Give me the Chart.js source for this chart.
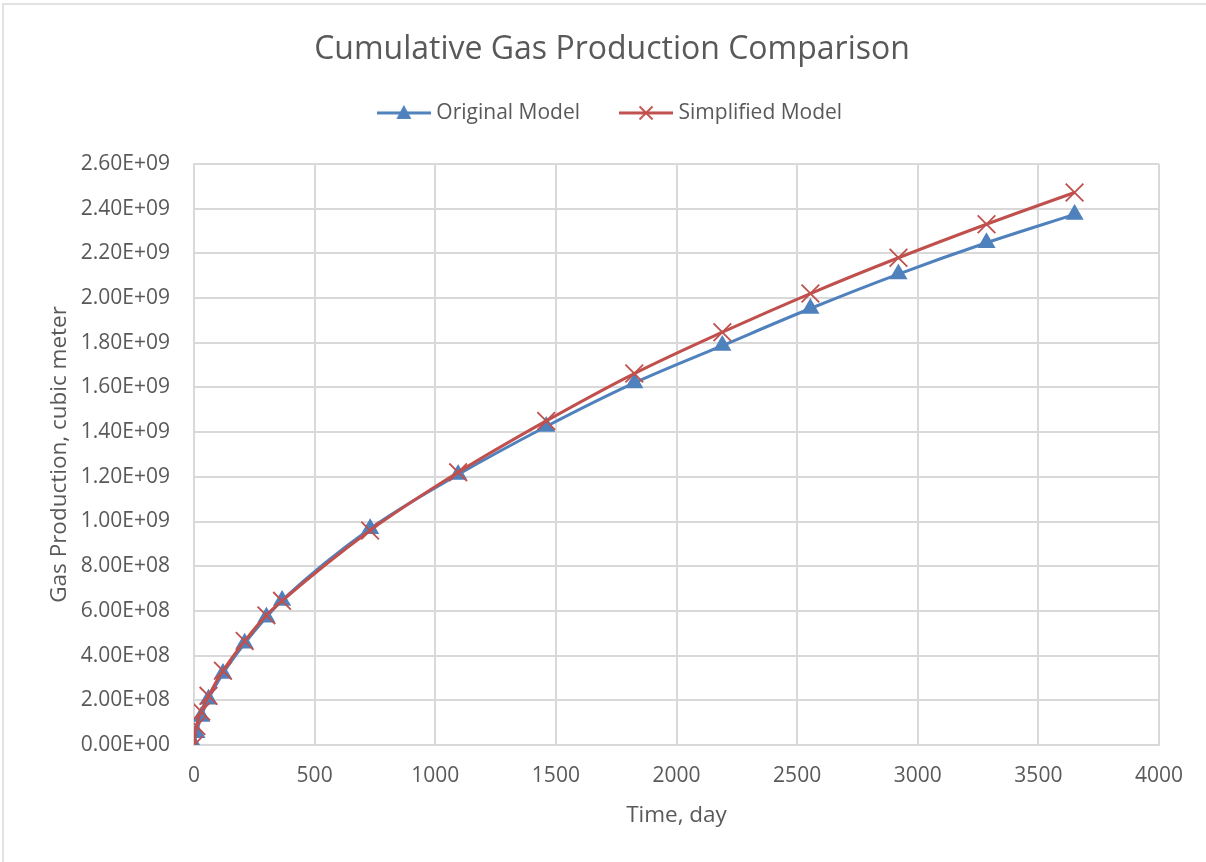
<!DOCTYPE html>
<html>
<head>
<meta charset="utf-8">
<title>Cumulative Gas Production Comparison</title>
<script src="https://cdn.jsdelivr.net/npm/chart.js@4.4.1/dist/chart.umd.min.js"></script>
<style>
  html, body { margin: 0; padding: 0; background: #ffffff; }
  #wrap { position: relative; width: 1206px; height: 862px; }
</style>
</head>
<body>
<div id="wrap"><canvas id="chart" width="1206" height="862"></canvas></div>
<script>
// Simulation time, days
const days = [0, 10, 30, 60, 120, 210, 300, 365, 730, 1095, 1460, 1825, 2190, 2555, 2920, 3285, 3650];

// Cumulative gas production, cubic meter
const originalModel = [0, 5.5e7, 1.28e8, 2.05e8, 3.2e8, 4.55e8, 5.72e8, 6.47e8, 9.68e8,
  1.21e9, 1.425e9, 1.62e9, 1.787e9, 1.953e9, 2.107e9, 2.247e9, 2.374e9];
const simplifiedModel = [0, 8.5e7, 1.5e8, 2.2e8, 3.32e8, 4.65e8, 5.8e8, 6.45e8, 9.6e8,
  1.22e9, 1.45e9, 1.662e9, 1.847e9, 2.02e9, 2.18e9, 2.33e9, 2.472e9];

const seriesNames = ['Original Model', 'Simplified Model'];
const xTicks = { min: 0, max: 4000, step: 500 };
const yTicks = { min: 0, max: 2.6e9, step: 2e8 };

const BLUE = '#4f81bd';
const RED = '#c0504d';
const TEXT = '#595959';
const GRID = '#d9d9d9';
const FONT = "'Open Sans', 'DejaVu Sans', sans-serif";

function pairs(xs, ys) { return xs.map((x, i) => ({ x: x, y: ys[i] })); }

function sciLabel(v) {
  const s = Number(v).toExponential(2).toUpperCase();
  return s.replace(/E([+-])(\d)$/, 'E$10$2');
}

// Legend swatches: a short line with the series marker in the middle
function legendSwatch(color, marker) {
  const c = document.createElement('canvas');
  c.width = 54; c.height = 22;
  const g = c.getContext('2d');
  g.strokeStyle = color; g.lineWidth = 3; g.lineCap = 'butt';
  g.beginPath(); g.moveTo(0, 11); g.lineTo(54, 11); g.stroke();
  if (marker === 'triangle') {
    g.fillStyle = color;
    g.beginPath(); g.moveTo(27, 3); g.lineTo(34.5, 17); g.lineTo(19.5, 17); g.closePath(); g.fill();
  } else {
    g.lineWidth = 1.8;
    g.beginPath();
    g.moveTo(20.5, 4.5); g.lineTo(33.5, 17.5);
    g.moveTo(33.5, 4.5); g.lineTo(20.5, 17.5);
    g.stroke();
  }
  return c;
}
const swatches = [legendSwatch(BLUE, 'triangle'), legendSwatch(RED, 'cross')];

// Empty layout box that keeps a gap between the legend and the plot area
const legendGap = {
  id: 'legendGap',
  beforeInit(chart) {
    const box = {
      position: 'top', weight: 500, fullSize: true,
      options: { display: true, stack: undefined, stackWeight: 1 },
      left: 0, top: 0, right: 0, bottom: 0, width: 0, height: 0,
      isHorizontal() { return true; },
      update(maxWidth) { this.width = maxWidth; this.height = 30.5; },
      draw() {}
    };
    Chart.layouts.addBox(chart, box);
  }
};

const frame = {
  id: 'frame',
  beforeDraw(chart) {
    const ctx = chart.ctx;
    ctx.save();
    ctx.fillStyle = '#ffffff';
    ctx.fillRect(0, 0, chart.width, chart.height);
    ctx.strokeStyle = GRID;
    ctx.lineWidth = 1.5;
    ctx.beginPath();
    ctx.moveTo(3, chart.height + 2); ctx.lineTo(3, 4); ctx.lineTo(chart.width + 2, 4);
    ctx.stroke();
    ctx.restore();
  }
};

new Chart(document.getElementById('chart'), {
  type: 'line',
  data: {
    datasets: [
      {
        label: seriesNames[0],
        data: pairs(days, originalModel),
        borderColor: BLUE,
        backgroundColor: BLUE,
        borderWidth: 3,
        pointStyle: 'triangle',
        pointRadius: 9,
        pointBorderWidth: 1.5,
        pointBackgroundColor: BLUE,
        pointBorderColor: BLUE,
        cubicInterpolationMode: 'monotone',
        order: 1
      },
      {
        label: seriesNames[1],
        data: pairs(days, simplifiedModel),
        borderColor: RED,
        backgroundColor: RED,
        borderWidth: 3,
        pointStyle: 'crossRot',
        pointRadius: 12.5,
        pointBorderWidth: 1.8,
        pointBorderColor: RED,
        cubicInterpolationMode: 'monotone',
        order: 0
      }
    ]
  },
  options: {
    responsive: false,
    animation: false,
    layout: { padding: { left: 65, right: 47, top: 0, bottom: 0 } },
    plugins: {
      title: {
        display: true,
        text: 'Cumulative Gas Production Comparison',
        color: TEXT,
        font: { family: FONT, size: 32, weight: 'normal' },
        padding: { top: 31, bottom: -11 }
      },
      legend: {
        display: true,
        position: 'top',
        labels: {
          color: TEXT,
          font: { family: FONT, size: 21 },
          usePointStyle: true,
          pointStyleWidth: 44,
          padding: 44,
          sort: (a, b) => a.datasetIndex - b.datasetIndex,
          generateLabels(chart) {
            const items = Chart.defaults.plugins.legend.labels.generateLabels(chart);
            items.forEach(it => { it.pointStyle = swatches[it.datasetIndex]; });
            return items;
          }
        }
      },
      tooltip: { enabled: false }
    },
    scales: {
      x: {
        type: 'linear',
        min: xTicks.min,
        max: xTicks.max,
        ticks: {
          stepSize: xTicks.step,
          color: TEXT,
          padding: 18,
          font: { family: FONT, size: 21 },
          maxRotation: 0,
          callback: (v) => String(v)
        },
        grid: { color: GRID, lineWidth: 2, drawTicks: false },
        border: { color: GRID, width: 2 },
        title: {
          display: true,
          text: 'Time, day',
          color: TEXT,
          font: { family: FONT, size: 22.5 },
          padding: { top: 0, bottom: 32.5 }
        },
        afterFit(scale) { scale.height = 117; }
      },
      y: {
        type: 'linear',
        min: yTicks.min,
        max: yTicks.max,
        ticks: {
          stepSize: yTicks.step,
          color: TEXT,
          padding: 24,
          font: { family: FONT, size: 21 },
          callback: (v) => sciLabel(v)
        },
        grid: { color: GRID, lineWidth: 2, drawTicks: false },
        border: { color: GRID, width: 2 },
        title: {
          display: true,
          text: 'Gas Production, cubic meter',
          color: TEXT,
          font: { family: FONT, size: 22.5 },
          padding: { top: -18.5, bottom: 0 }
        },
        afterFit(scale) { scale.width = 129; }
      }
    }
  },
  plugins: [legendGap, frame]
});
</script>
</body>
</html>
